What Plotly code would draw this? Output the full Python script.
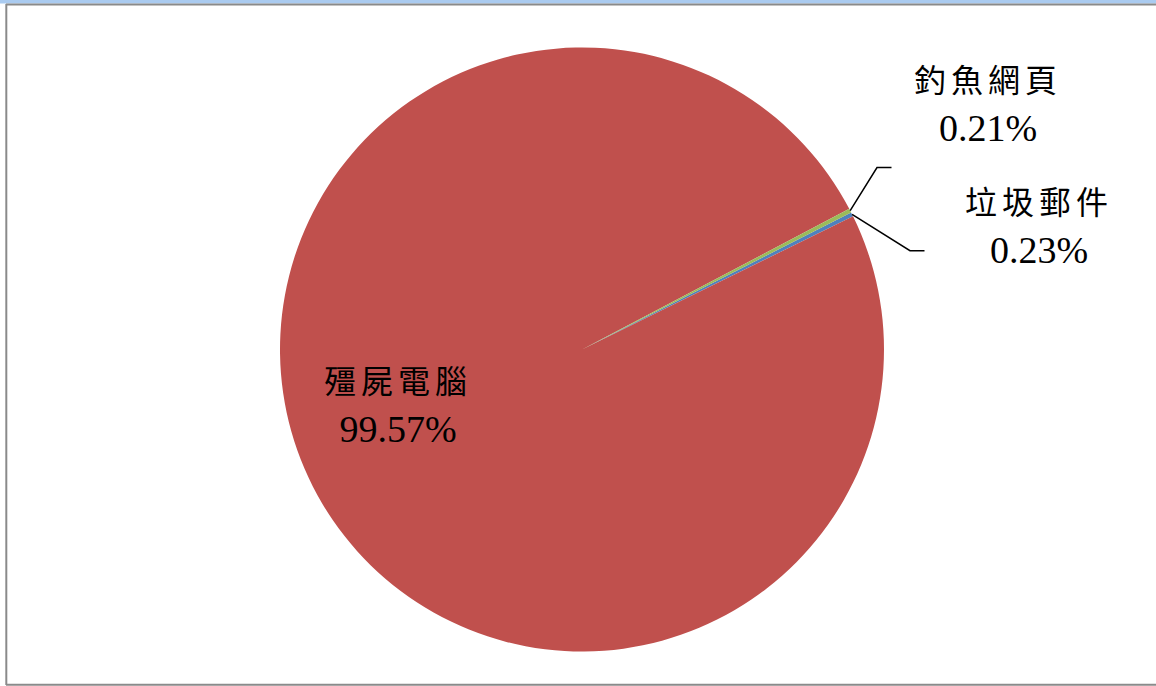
import plotly.graph_objects as go

# Share of incidents by category (percent)
categories = ["垃圾郵件", "殭屍電腦", "釣魚網頁"]
shares = [0.23, 99.57, 0.21]
colors = ["#4F81BD", "#C0504D", "#9BBB59"]

# Canvas and pie geometry (pixels)
W, H = 1156, 686
CX, CY, R = 582, 349.5, 302
START_ANGLE = 63  # clockwise from 12 o'clock, where the first slice begins

# Label centres (pixels) and elbow / end of the leader line (None = label inside)
label_pos = {
    "垃圾郵件": (1039, 228),
    "殭屍電腦": (398, 407),
    "釣魚網頁": (988, 106),
}
leader = {
    "垃圾郵件": [(910, 250.7), (924.5, 250.7)],
    "殭屍電腦": None,
    "釣魚網頁": [(877, 167.5), (891.5, 167.5)],
}


def px(x):
    return x / W


def py(y):
    return 1 - y / H


fig = go.Figure(
    go.Pie(
        labels=categories,
        values=shares,
        sort=False,
        direction="clockwise",
        rotation=START_ANGLE,
        marker=dict(colors=colors, line=dict(width=0)),
        textinfo="none",
        hoverinfo="label+percent",
        showlegend=False,
        domain=dict(x=[px(CX - R), px(CX + R)], y=[py(CY + R), py(CY - R)]),
    )
)

import math

total = sum(shares)
cum = 0.0
annotations = []
shapes = []
for cat, val in zip(categories, shares):
    mid = START_ANGLE + 360 * (cum + val / 2) / total
    cum += val
    lx, ly = label_pos[cat]
    text = (
        f'<span style="font-size:32px;letter-spacing:5px">{cat}</span>'
        f"<br>{val:.2f}%"
    )
    annotations.append(
        dict(
            x=px(lx), y=py(ly), xref="paper", yref="paper",
            text=text, showarrow=False, xanchor="center", yanchor="middle",
            align="center",
            font=dict(family="Liberation Serif, Noto Sans CJK TC", size=38, color="#000000"),
        )
    )
    if leader[cat]:
        ex = CX + R * math.sin(math.radians(mid))
        ey = CY - R * math.cos(math.radians(mid))
        pts = [(ex, ey)] + leader[cat]
        path = "M " + " L ".join(f"{px(x)},{py(y)}" for x, y in pts)
        shapes.append(dict(type="path", path=path, xref="paper", yref="paper",
                           line=dict(color="#000000", width=1.5)))

# Window frame: light title strip on top, grey border
shapes += [
    dict(type="rect", xref="paper", yref="paper", x0=0, x1=1, y0=py(3.6), y1=1,
         fillcolor="#AACBF0", line=dict(width=0), layer="above"),
    dict(type="line", xref="paper", yref="paper", x0=px(6), x1=1, y0=py(4.6), y1=py(4.6),
         line=dict(color="#8A8A8A", width=2)),
    dict(type="line", xref="paper", yref="paper", x0=px(6.3), x1=px(6.3), y0=py(4), y1=py(685),
         line=dict(color="#8A8A8A", width=2)),
    dict(type="line", xref="paper", yref="paper", x0=px(6), x1=1, y0=py(684.8), y1=py(684.8),
         line=dict(color="#8A8A8A", width=2)),
]

fig.update_layout(
    width=W, height=H,
    margin=dict(l=0, r=0, t=0, b=0),
    paper_bgcolor="#FFFFFF",
    plot_bgcolor="#FFFFFF",
    annotations=annotations,
    shapes=shapes,
)

fig.write_html("out.html")
